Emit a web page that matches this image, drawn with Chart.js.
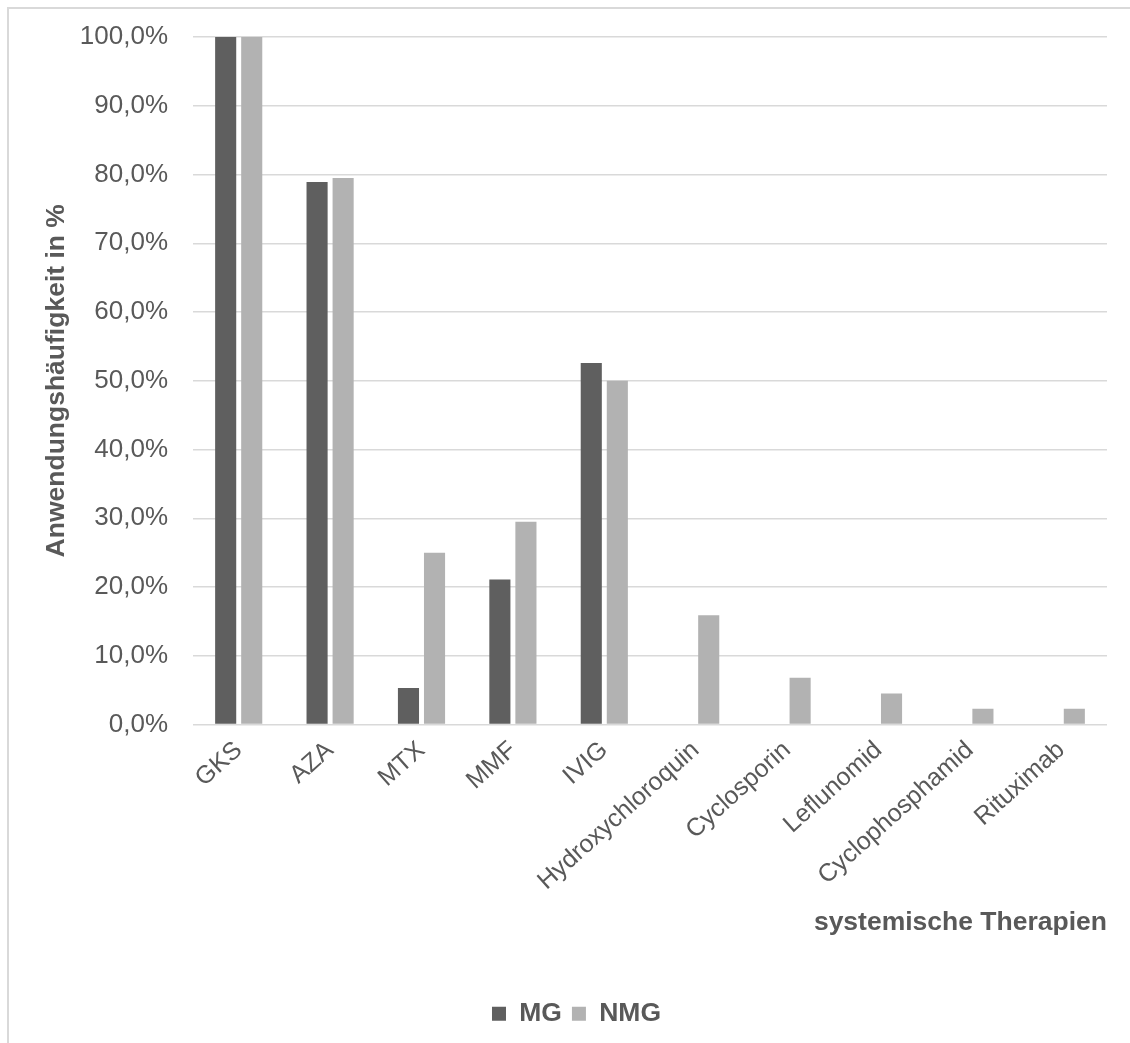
<!DOCTYPE html>
<html>
<head>
<meta charset="utf-8">
<script src="https://cdn.jsdelivr.net/npm/chart.js@4/dist/chart.umd.min.js"></script>
<style>
  html, body { margin: 0; padding: 0; background: #fff; overflow: hidden; }
  #frame { position: absolute; left: 7px; top: 7px; width: 1140px; height: 1050px;
           border: 2px solid #d9d9d9; box-sizing: border-box; }
  #wrap { position: absolute; left: 0; top: 0; width: 1130px; height: 1043px; }
</style>
</head>
<body>
<div id="frame"></div>
<div id="wrap"><canvas id="c"></canvas></div>
<script>
// Therapies and share of patients (in %) per group
const categories = ['GKS', 'AZA', 'MTX', 'MMF', 'IVIG', 'Hydroxychloroquin',
                    'Cyclosporin', 'Leflunomid', 'Cyclophosphamid', 'Rituximab'];
const mgValues  = [100.0, 78.9, 5.3, 21.1, 52.6, 0, 0, 0, 0, 0];
const nmgValues = [100.0, 79.5, 25.0, 29.5, 50.0, 15.9, 6.8, 4.5, 2.3, 2.3];
const seriesNames = ['MG', 'NMG'];
const yMin = 0, yMax = 100, yStep = 10;

const TEXT = '#595959';
const FONT = "'Liberation Sans', Arial, sans-serif";

// centre the legend under the whole framed figure rather than the canvas box
const legendShift = {
  id: 'legendShift',
  afterLayout(chart) {
    if (chart.legend) {
      chart.legend.left += 23;
      chart.legend.right += 23;
    }
  }
};

new Chart(document.getElementById('c'), {
  type: 'bar',
  data: {
    labels: categories,
    datasets: [
      { label: seriesNames[0], data: mgValues,  backgroundColor: '#5f5f5f' },
      { label: seriesNames[1], data: nmgValues, backgroundColor: '#b2b2b2' }
    ]
  },
  plugins: [legendShift],
  options: {
    responsive: true,
    maintainAspectRatio: false,
    animation: false,
    categoryPercentage: 0.57,
    barPercentage: 0.81,
    layout: { padding: { top: 37, right: 23, bottom: 6, left: 0 } },
    plugins: {
      tooltip: { enabled: false },
      legend: {
        position: 'bottom',
        labels: {
          boxWidth: 14, boxHeight: 14, padding: 10,
          color: TEXT, font: { family: FONT, size: 26.5, weight: 'bold' }
        }
      }
    },
    scales: {
      x: {
        grid: { display: false },
        border: { display: false },
        ticks: {
          color: TEXT, font: { family: FONT, size: 25 },
          minRotation: 42, maxRotation: 42, padding: 3, autoSkip: false
        },
        title: {
          display: true, text: 'systemische Therapien', align: 'end',
          color: TEXT, font: { family: FONT, size: 26.5, weight: 'bold' },
          padding: { top: 0, bottom: 52 }
        },
        afterFit: (s) => { s.height = 266; }
      },
      y: {
        min: yMin, max: yMax,
        grid: { color: '#d9d9d9', lineWidth: 1.5, drawTicks: false },
        border: { display: false },
        ticks: {
          stepSize: yStep, padding: 25, color: TEXT,
          font: { family: FONT, size: 26 },
          callback: (v) => v.toFixed(1).replace('.', ',') + '%'
        },
        title: {
          display: true, text: 'Anwendungshäufigkeit in %',
          color: TEXT, font: { family: FONT, size: 26.5, weight: 'bold' },
          padding: { top: 41, bottom: 0 }
        },
        afterFit: (s) => {
          s.width = 193;
          s.paddingTop = 0;
          s.paddingBottom = 0;
        }
      }
    }
  }
});
</script>
</body>
</html>
